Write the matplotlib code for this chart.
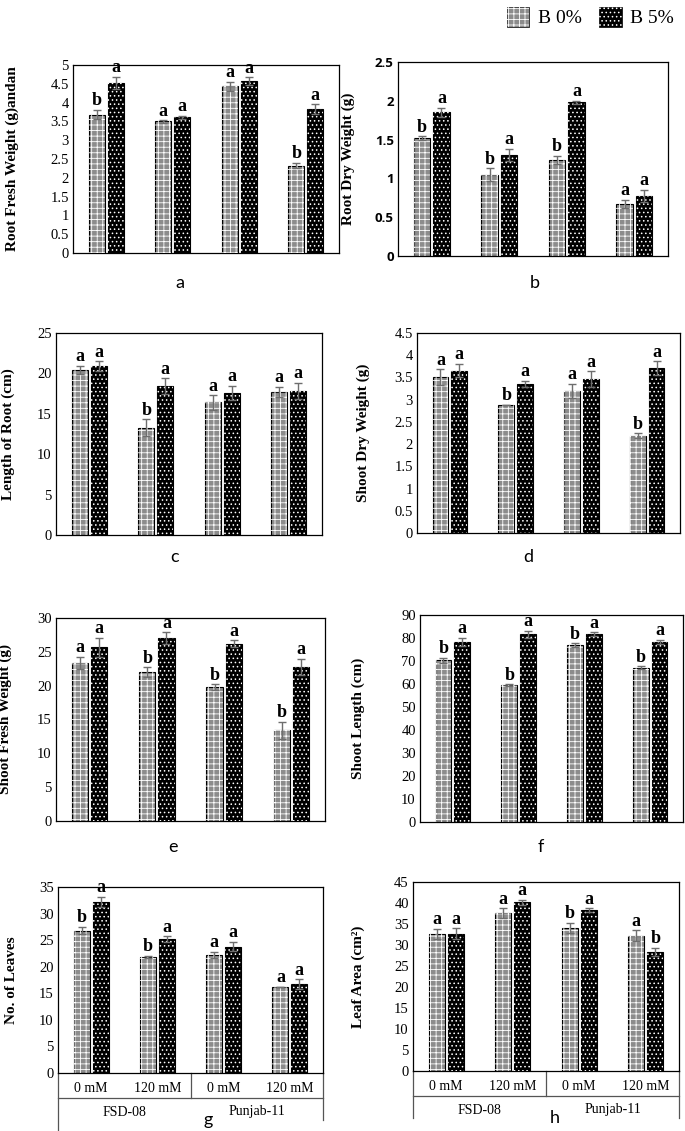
import numpy as np
import matplotlib
matplotlib.use('Agg')
import matplotlib.pyplot as plt
from matplotlib.patches import Patch
from matplotlib.legend_handler import HandlerTuple

plt.rcParams['hatch.linewidth'] = 0.6

W, H = 685, 1131
SERIF = 'Liberation Serif'

treatments = ['0 mM', '120 mM', '0 mM', '120 mM']
varieties = ['FSD-08', 'Punjab-11']
series_names = ['B 0%', 'B 5%']

# a) Root fresh weight
rfw_b0 = [3.68, 3.50, 4.44, 2.32]
rfw_b0_err = [0.12, 0.03, 0.12, 0.07]
rfw_b5 = [4.52, 3.61, 4.57, 3.82]
rfw_b5_err = [0.17, 0.04, 0.10, 0.13]
rfw_let = [['b', 'a', 'a', 'b'], ['a', 'a', 'a', 'a']]

# b) Root dry weight
rdw_b0 = [1.52, 1.05, 1.24, 0.67]
rdw_b0_err = [0.02, 0.08, 0.05, 0.05]
rdw_b5 = [1.85, 1.30, 1.98, 0.77]
rdw_b5_err = [0.06, 0.08, 0.02, 0.08]
rdw_let = [['b', 'b', 'b', 'a'], ['a', 'a', 'a', 'a']]

# c) Length of root
lr_b0 = [20.4, 13.3, 16.4, 17.7]
lr_b0_err = [0.5, 1.0, 0.9, 0.6]
lr_b5 = [20.9, 18.4, 17.6, 17.8]
lr_b5_err = [0.6, 1.0, 0.9, 1.0]
lr_let = [['a', 'b', 'a', 'a'], ['a', 'a', 'a', 'a']]

# d) Shoot dry weight
sdw_b0 = [3.50, 2.88, 3.19, 2.19]
sdw_b0_err = [0.18, 0.01, 0.16, 0.05]
sdw_b5 = [3.65, 3.35, 3.46, 3.71]
sdw_b5_err = [0.15, 0.07, 0.18, 0.15]
sdw_let = [['a', 'b', 'a', 'b'], ['a', 'a', 'a', 'a']]

# e) Shoot fresh weight
sfw_b0 = [23.4, 22.0, 19.8, 13.4]
sfw_b0_err = [0.9, 0.7, 0.4, 1.3]
sfw_b5 = [25.7, 27.0, 26.2, 22.8]
sfw_b5_err = [1.4, 0.9, 0.5, 1.2]
sfw_let = [['a', 'b', 'b', 'b'], ['a', 'a', 'a', 'a']]

# f) Shoot length
sl_b0 = [70.3, 59.6, 76.8, 67.1]
sl_b0_err = [1.2, 0.3, 0.9, 0.6]
sl_b5 = [78.3, 81.6, 81.6, 78.3]
sl_b5_err = [1.8, 1.5, 0.8, 1.0]
sl_let = [['b', 'b', 'b', 'b'], ['a', 'a', 'a', 'a']]

# g) Number of leaves
nl_b0 = [26.8, 21.9, 22.2, 16.2]
nl_b0_err = [0.7, 0.2, 0.6, 0.05]
nl_b5 = [32.2, 25.2, 23.8, 16.7]
nl_b5_err = [0.9, 0.5, 0.9, 0.9]
nl_let = [['b', 'b', 'a', 'a'], ['a', 'a', 'a', 'a']]

# h) Leaf area
la_b0 = [32.7, 37.6, 34.1, 32.2]
la_b0_err = [1.2, 1.1, 1.2, 1.3]
la_b5 = [32.7, 40.2, 38.3, 28.3]
la_b5_err = [1.3, 0.6, 0.4, 1.0]
la_let = [['a', 'a', 'b', 'a'], ['a', 'a', 'a', 'b']]

styles = [dict(face='#8c8c8c', hatch='+++'), dict(face='black', hatch='....')]

fig = plt.figure(figsize=(W / 100, H / 100), dpi=100)


def make_ax(l, t, r, b):
    return fig.add_axes([l / W, 1 - b / H, (r - l) / W, (b - t) / H])


def panel(box, b0, e0, b5, e5, letters, ymax, ystep, ylabel, ylab_x, tag, tag_xy,
          tickfont=None, groups=False):
    ax = make_ax(*box)
    x = np.arange(4)
    off, bw = 0.143, 0.24
    for k, (vals, errs) in enumerate([(b0, e0), (b5, e5)]):
        xs = x + (-off if k == 0 else off)
        st = styles[k]
        ax.bar(xs, vals, bw, color=st['face'], edgecolor='black', linewidth=0.8, zorder=2)
        ax.bar(xs, vals, bw, color='none', edgecolor='white', hatch=st['hatch'],
               linewidth=0, zorder=3)
        ax.errorbar(xs, vals, yerr=errs, fmt='none', ecolor='#6e6e6e', elinewidth=1,
                    capsize=3, capthick=1, zorder=4)
        for xi, v, e, lt in zip(xs, vals, errs, letters[k]):
            ax.annotate(lt, (xi, v + e), xytext=(0, 0.5), textcoords='offset points',
                        ha='center', va='bottom', fontsize=13, fontweight='bold',
                        family=SERIF)
    ax.set_xlim(-0.5, 3.5)
    ax.set_ylim(0, ymax)
    ax.set_yticks(np.arange(0, ymax + ystep / 2, ystep))
    ax.yaxis.set_major_formatter(plt.FuncFormatter(lambda v, p: '%g' % round(v, 2)))
    ax.set_xticks([])
    ax.tick_params(axis='y', length=0, pad=3)
    for lab in ax.get_yticklabels():
        if tickfont:
            lab.set_family(tickfont)
            lab.set_fontweight('bold')
            lab.set_fontsize(9.5)
        else:
            lab.set_family(SERIF)
            lab.set_fontsize(10.5)
    for s in ax.spines.values():
        s.set_linewidth(0.9)
    ax.set_ylabel(ylabel, family=SERIF, fontweight='bold', fontsize=11)
    ax.yaxis.set_label_coords((ylab_x - box[0]) / (box[2] - box[0]), 0.5)
    fig.text(tag_xy[0] / W, 1 - tag_xy[1] / H, tag, family='Lato', fontsize=13,
             ha='center', va='center')

    if groups:
        hpx = box[3] - box[1]
        fy = lambda px: -px / hpx
        kw = dict(transform=ax.transAxes, clip_on=False, color='#555555', lw=0.9)
        for i, t in enumerate(treatments):
            ax.text((i + 0.5) / 4, fy(16), t, transform=ax.transAxes, ha='center',
                    va='center', family=SERIF, fontsize=10)
        for i, v in enumerate(varieties):
            ax.text((i + 0.5) / 2, fy(39), v, transform=ax.transAxes, ha='center',
                    va='center', family=SERIF, fontsize=10)
        ax.plot([0, 1], [fy(25), fy(25)], **kw)
        ax.plot([0.5, 0.5], [0, fy(25)], **kw)
        ax.plot([0, 0], [0, fy(groups[0])], **kw)
        ax.plot([1, 1], [0, fy(groups[1])], **kw)
    return ax


panel((73, 65, 339, 253), rfw_b0, rfw_b0_err, rfw_b5, rfw_b5_err, rfw_let, 5, 0.5,
      'Root Fresh Weight (g)andan', 19, 'a', (180, 283))
panel((398, 62, 668, 256), rdw_b0, rdw_b0_err, rdw_b5, rdw_b5_err, rdw_let, 2.5, 0.5,
      'Root Dry Weight (g)', 355, 'b', (535, 283), tickfont='Open Sans')
panel((56, 333, 322, 535), lr_b0, lr_b0_err, lr_b5, lr_b5_err, lr_let, 25, 5,
      'Length of Root (cm)', 15, 'c', (175, 557))
panel((417, 333, 680, 533), sdw_b0, sdw_b0_err, sdw_b5, sdw_b5_err, sdw_let, 4.5, 0.5,
      'Shoot Dry Weight (g)', 370, 'd', (528, 557))
panel((56, 618, 325, 821), sfw_b0, sfw_b0_err, sfw_b5, sfw_b5_err, sfw_let, 30, 5,
      'Shoot Fresh Weight (g)', 12, 'e', (173, 847))
panel((420, 615, 683, 822), sl_b0, sl_b0_err, sl_b5, sl_b5_err, sl_let, 90, 10,
      'Shoot Length (cm)', 365, 'f', (541, 847))
panel((58, 887, 323, 1073), nl_b0, nl_b0_err, nl_b5, nl_b5_err, nl_let, 35, 5,
      'No. of Leaves', 18, 'g', (208, 1120), groups=(58, 47))
panel((413, 882, 679, 1071), la_b0, la_b0_err, la_b5, la_b5_err, la_let, 45, 5,
      'Leaf Area (cm²)', 365, 'h', (555, 1118), groups=(47, 47))

handles = []
for st in styles:
    handles.append((Patch(facecolor=st['face'], edgecolor='black', linewidth=0.5),
                    Patch(facecolor='none', edgecolor='white', hatch=st['hatch'], linewidth=0)))
fig.legend(handles, series_names, handler_map={tuple: HandlerTuple(ndivide=1, pad=0)},
           loc='upper left', bbox_to_anchor=(500 / W, 1.0), ncol=2, frameon=False,
           prop={'family': SERIF, 'size': 14}, handlelength=1.15, handleheight=1.2,
           columnspacing=0.9, handletextpad=0.45, borderaxespad=0.05, borderpad=0.3)

fig.savefig('out.png', dpi=100)
